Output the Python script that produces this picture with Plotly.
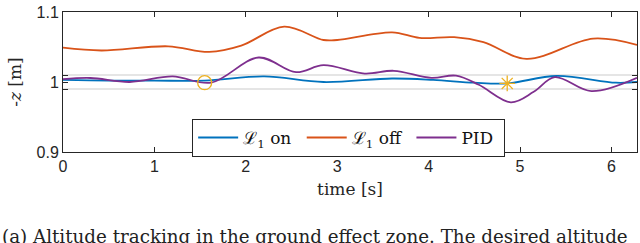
import plotly.graph_objects as go

# --- data ---
t_on = [0, 0.5, 1.0, 1.55, 2.2, 2.85, 3.6, 4.05, 4.5, 4.86, 5.4, 6.05, 6.28]
z_on = [1.003, 1.002, 1.002, 1.002, 1.008, 1.0, 1.005, 1.003, 0.999, 0.998, 1.0086, 0.999, 1.0]

t_off = [0, 0.42, 1.15, 1.6, 1.95, 2.42, 2.85, 3.0, 3.6, 3.9, 4.28, 4.6, 5.07, 5.8, 6.28]
z_off = [1.049, 1.045, 1.051, 1.043, 1.052, 1.079, 1.060, 1.060, 1.071, 1.063, 1.064, 1.057, 1.033, 1.062, 1.053]

t_pid = [0, 0.3, 0.73, 1.2, 1.62, 2.14, 2.55, 2.85, 3.3, 3.62, 4.03, 4.3, 4.55, 4.9, 5.15, 5.38, 5.78, 6.28]
z_pid = [1.004, 1.0057, 1.0, 1.008, 0.999, 1.035, 1.014, 1.024, 1.012, 1.016, 1.006, 1.009, 0.996, 0.971, 0.986, 1.007, 0.987, 1.006]

circle_pt = (1.55, 0.999)
star_pt = (4.86, 0.998)
band = [0.99, 1.01]

x_ticks = [0, 1, 2, 3, 4, 5, 6]
y_ticks = [0.9, 0.99, 1.0, 1.01, 1.1]
y_ticktext = ["0.9", "", "1", "", "1.1"]
legend_names = ["ℒ<sub>1</sub> on&nbsp;", "ℒ<sub>1</sub> off&nbsp;", "PID&nbsp;"]

blue, orange, purple, yellow = "#0072BD", "#D95319", "#7E2F8E", "#EDB120"
serif = "DejaVu Serif"
sans = "Liberation Sans"

fig = go.Figure()

for yv in band:
    fig.add_shape(type="line", xref="paper", x0=0, x1=1, y0=yv, y1=yv,
                  line=dict(color="#dcdcdc", width=1.5), layer="below")

fig.add_trace(go.Scatter(x=t_on, y=z_on, mode="lines", line=dict(color=blue, width=1.8, shape="spline"),
                         name=legend_names[0]))
fig.add_trace(go.Scatter(x=t_off, y=z_off, mode="lines", line=dict(color=orange, width=1.8, shape="spline"),
                         name=legend_names[1]))
fig.add_trace(go.Scatter(x=t_pid, y=z_pid, mode="lines", line=dict(color=purple, width=1.8, shape="spline"),
                         name=legend_names[2]))
fig.add_trace(go.Scatter(x=[circle_pt[0]], y=[circle_pt[1]], mode="markers", showlegend=False,
                         marker=dict(symbol="circle-open", size=14, color=yellow, line=dict(width=1.3, color=yellow))))
fig.add_trace(go.Scatter(x=[star_pt[0]], y=[star_pt[1]], mode="markers", showlegend=False,
                         marker=dict(symbol="asterisk-open", size=13, color=yellow, line=dict(width=1.3, color=yellow))))

axis_common = dict(showgrid=False, zeroline=False, showline=True, linecolor="#262626", linewidth=1,
                   mirror="ticks", ticks="inside", ticklen=5, tickcolor="#262626",
                   tickfont=dict(family=sans, size=16, color="#262626"))

fig.update_xaxes(range=[0, 6.28], tickvals=x_ticks, **axis_common,
                 title=dict(text="time [s]", font=dict(family=serif, size=17, color="#262626"), standoff=8))
fig.update_yaxes(range=[0.9, 1.1], tickvals=y_ticks, ticktext=y_ticktext, **axis_common,
                 title=dict(text="-<i>z</i> [m]", font=dict(family=serif, size=17, color="#262626"), standoff=10))

fig.add_annotation(text="(a) Altitude tracking in the ground effect zone. The desired altitude",
                   xref="paper", yref="paper", x=-0.11, y=-0.515, xanchor="left", yanchor="top",
                   showarrow=False, font=dict(family=serif, size=18.3, color="#222"))

fig.update_layout(
    width=640, height=243,
    margin=dict(l=63, r=3, t=12, b=91),
    plot_bgcolor="white", paper_bgcolor="white",
    legend=dict(orientation="h", x=0.225, y=0.236, xanchor="left", yanchor="top",
                bordercolor="#262626", borderwidth=1, bgcolor="white",
                font=dict(family=serif, size=17, color="#111"),
                itemwidth=40, tracegroupgap=0),
)

fig.write_html("out.html", config={"displayModeBar": False},
               post_script="document.body.style.margin='0';")
